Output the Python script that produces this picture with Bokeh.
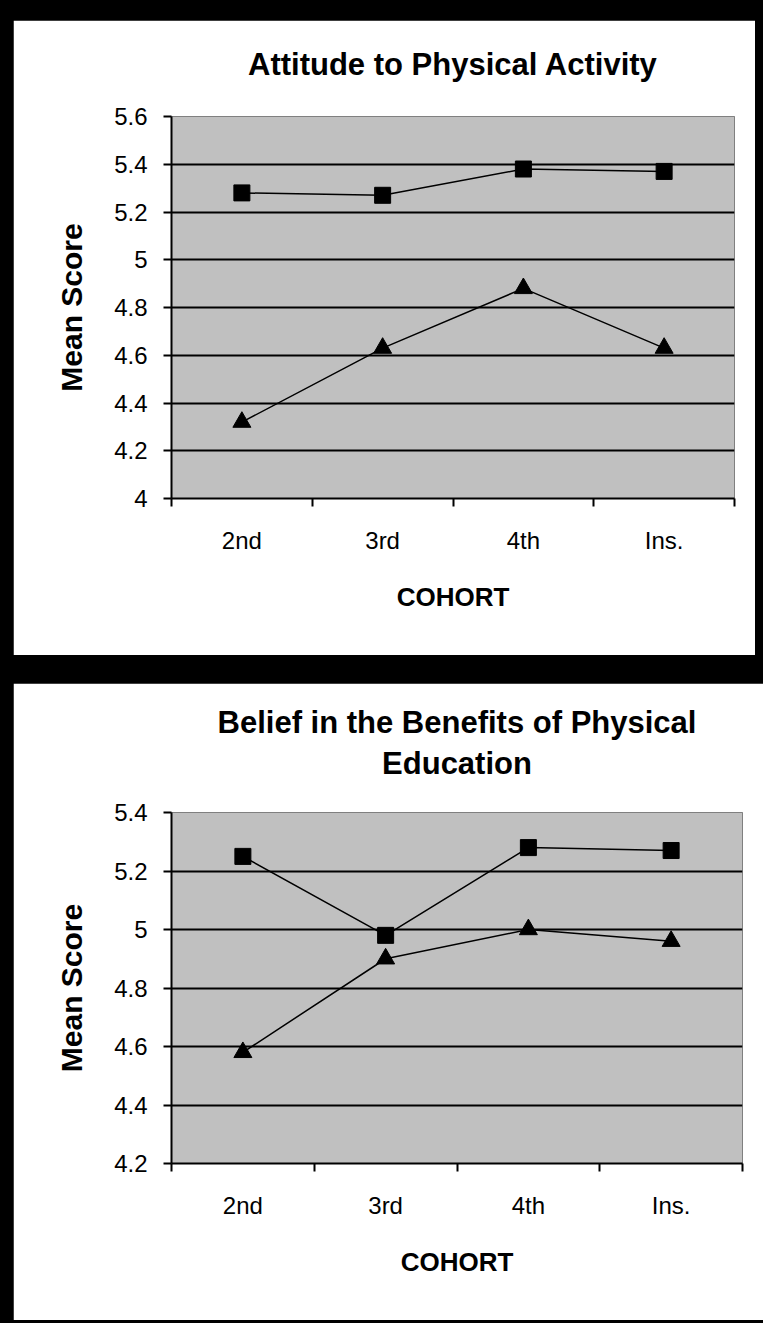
from bokeh.plotting import figure
from bokeh.models import Range1d, FixedTicker, Title
from bokeh.layouts import column
from bokeh.embed import file_html
from bokeh.resources import INLINE

# ---- data ----
cohorts = ["2nd", "3rd", "4th", "Ins."]

attitude_square = [5.28, 5.27, 5.38, 5.37]
attitude_triangle = [4.32, 4.63, 4.88, 4.63]

belief_square = [5.25, 4.98, 5.28, 5.27]
belief_triangle = [4.58, 4.90, 5.00, 4.96]

attitude_yticks = [4.0, 4.2, 4.4, 4.6, 4.8, 5.0, 5.2, 5.4, 5.6]
attitude_ylabels = ["4", "4.2", "4.4", "4.6", "4.8", "5", "5.2", "5.4", "5.6"]

belief_yticks = [4.2, 4.4, 4.6, 4.8, 5.0, 5.2, 5.4]
belief_ylabels = ["4.2", "4.4", "4.6", "4.8", "5", "5.2", "5.4"]

attitude_title = ["Attitude to Physical Activity"]
belief_title = ["Belief in the Benefits of Physical", "Education"]

FONT = "Liberation Sans"


def make_panel(title_lines, sq, tri, yticks, ylabels, width, height, btop, bbottom,
               bright, margin, spacer_standoff):
    n = len(cohorts)
    xs = [i + 0.5 for i in range(n)]
    p = figure(width=width, height=height, output_backend="svg", toolbar_location=None,
               x_range=Range1d(0, n), y_range=Range1d(yticks[0], yticks[-1]),
               min_border_left=158, min_border_right=bright,
               min_border_top=btop, min_border_bottom=bbottom,
               background_fill_color="#c0c0c0", border_fill_color="white",
               outline_line_color="#808080", outline_line_width=1,
               margin=margin)
    # blank spacer panel between frame and the title lines
    p.add_layout(Title(text=" ", text_font_size="1px", text_color="white",
                       standoff=spacer_standoff), "above")
    # titles (last line first -> closest to frame)
    for i, line in enumerate(reversed(title_lines)):
        t = Title(text=line, align="center", text_font=FONT, text_font_size="31px",
                  text_font_style="bold", text_color="black", standoff=0 if i == 0 else 8)
        p.add_layout(t, "above")

    p.line(xs, sq, line_color="black", line_width=1.5)
    p.scatter(xs, sq, marker="square", size=16, fill_color="black", line_color="black")
    p.line(xs, tri, line_color="black", line_width=1.5)
    p.scatter(xs, tri, marker="triangle", size=18, fill_color="black", line_color="black")

    # x axis
    xa = p.xaxis[0]
    xa.ticker = FixedTicker(ticks=xs, minor_ticks=list(range(n + 1)))
    xa.major_label_overrides = {x: c for x, c in zip(xs, cohorts)}
    xa.major_tick_line_color = None
    xa.major_tick_out = 0
    xa.major_tick_in = 0
    xa.minor_tick_out = 8
    xa.minor_tick_in = 0
    xa.minor_tick_line_width = 2
    xa.minor_tick_line_color = "black"
    xa.axis_line_width = 2
    xa.axis_line_color = "black"
    xa.major_label_text_font = FONT
    xa.major_label_text_font_size = "24px"
    xa.major_label_text_color = "black"
    xa.major_label_standoff = 20
    xa.axis_label = "COHORT"
    xa.axis_label_text_font = FONT
    xa.axis_label_text_font_size = "26px"
    xa.axis_label_text_font_style = "bold"
    xa.axis_label_text_color = "black"
    xa.axis_label_standoff = 25

    # y axis
    ya = p.yaxis[0]
    ya.ticker = FixedTicker(ticks=yticks)
    ya.major_label_overrides = {v: s for v, s in zip(yticks, ylabels)}
    ya.major_tick_out = 8
    ya.major_tick_in = 0
    ya.major_tick_line_width = 2
    ya.major_tick_line_color = "black"
    ya.minor_tick_line_color = None
    ya.axis_line_width = 2
    ya.axis_line_color = "black"
    ya.major_label_text_font = FONT
    ya.major_label_text_font_size = "24px"
    ya.major_label_text_color = "black"
    ya.major_label_standoff = 16
    ya.axis_label = "Mean Score"
    ya.axis_label_text_font = FONT
    ya.axis_label_text_font_size = "30px"
    ya.axis_label_text_font_style = "bold"
    ya.axis_label_text_color = "black"
    ya.axis_label_standoff = 23

    p.xgrid.visible = False
    p.ygrid.ticker = FixedTicker(ticks=yticks[1:-1])
    p.ygrid.grid_line_color = "black"
    p.ygrid.grid_line_width = 2
    return p


p1 = make_panel(attitude_title, attitude_square, attitude_triangle,
                attitude_yticks, attitude_ylabels, 742, 635, 96, 157, 13,
                (20, 8, 0, 13), 32)
p2 = make_panel(belief_title, belief_square, belief_triangle,
                belief_yticks, belief_ylabels, 750, 637, 129, 157, 21,
                (28, 0, 3, 13), 29)

layout = column(p1, p2, spacing=0, width=763, height=1323,
                styles={"background-color": "black"})

open("out.html", "w").write(file_html(layout, INLINE))
